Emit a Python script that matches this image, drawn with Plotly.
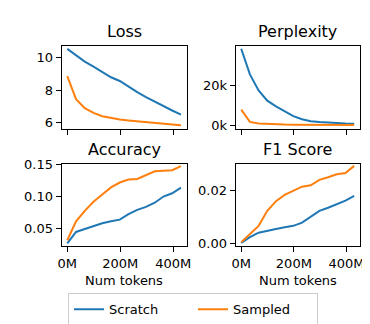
import plotly.graph_objects as go

tokens_m = [0, 33, 66, 99, 132, 165, 198, 231, 264, 297, 330, 363, 396, 429]

loss_scratch = [10.55, 10.16, 9.76, 9.45, 9.1, 8.8, 8.57, 8.2, 7.88, 7.58, 7.29, 7.0, 6.75, 6.5]
loss_sampled = [8.87, 7.45, 6.89, 6.6, 6.4, 6.28, 6.2, 6.14, 6.08, 6.02, 5.96, 5.9, 5.88, 5.84]

ppl_scratch = [38400, 25600, 17600, 12500, 9600, 7200, 4800, 3200, 2200, 1800, 1400, 1300, 1100, 1000]
ppl_sampled = [8000, 1900, 1100, 800, 650, 550, 500, 460, 430, 410, 390, 370, 360, 350]

acc_scratch = [0.026, 0.044, 0.0485, 0.0536, 0.0577, 0.0607, 0.0633, 0.072, 0.0786, 0.0832, 0.0898, 0.0995, 0.1046, 0.1135]
acc_sampled = [0.031, 0.0607, 0.077, 0.0913, 0.1026, 0.1138, 0.1214, 0.126, 0.127, 0.133, 0.139, 0.1398, 0.1408, 0.147]

f1_scratch = [0.0001, 0.0023, 0.004, 0.0046, 0.0054, 0.0061, 0.0066, 0.0078, 0.0102, 0.0123, 0.0135, 0.0148, 0.0162, 0.018]
f1_sampled = [0.0004, 0.0035, 0.0066, 0.0123, 0.016, 0.0184, 0.0199, 0.0215, 0.022, 0.0241, 0.0251, 0.0262, 0.0267, 0.0294]

x_tickvals = [0, 200, 400]
x_ticktext = ["0M", "200M", "400M"]

BLUE = "#1f77b4"
ORANGE = "#ff7f0e"
W, H = 370, 324
FONT = "DejaVu Sans"

fig = go.Figure()

panels = [
    ("x", "y", loss_scratch, loss_sampled),
    ("x2", "y2", ppl_scratch, ppl_sampled),
    ("x3", "y3", acc_scratch, acc_sampled),
    ("x4", "y4", f1_scratch, f1_sampled),
]
for i, (xa, ya, s, m) in enumerate(panels):
    fig.add_trace(go.Scatter(x=tokens_m, y=s, mode="lines", name="Scratch",
                             line=dict(color=BLUE, width=2), xaxis=xa, yaxis=ya,
                             showlegend=(i == 0)))
    fig.add_trace(go.Scatter(x=tokens_m, y=m, mode="lines", name="Sampled",
                             line=dict(color=ORANGE, width=2), xaxis=xa, yaxis=ya,
                             showlegend=(i == 0)))

def px_x(a, b):
    return [a / W, b / W]

def px_y(top, bottom):
    return [1 - bottom / H, 1 - top / H]

common_ax = dict(showline=True, mirror=True, linecolor="black", linewidth=1,
                 ticks="outside", ticklen=5, tickwidth=1, tickcolor="black",
                 showgrid=False, zeroline=False,
                 tickfont=dict(family=FONT, size=13, color="black"))
xr = [-21.45, 450.45]

dom_left = px_x(50.7, 178.5)
dom_right = px_x(228.5, 355.5)
dom_top = px_y(32.3, 118.7)
dom_bot = px_y(154.5, 240.0)

fig.update_layout(
    xaxis=dict(domain=dom_left, anchor="y", range=xr, tickvals=x_tickvals, ticktext=["", "", ""], **common_ax),
    yaxis=dict(domain=dom_top, anchor="x", range=[5.59, 10.72], tickvals=[6, 8, 10], **common_ax),
    xaxis2=dict(domain=dom_right, anchor="y2", range=xr, tickvals=x_tickvals, ticktext=["", "", ""], **common_ax),
    yaxis2=dict(domain=dom_top, anchor="x2", range=[-1800, 39700], tickvals=[0, 20000], ticktext=["0k", "20k"], **common_ax),
    xaxis3=dict(domain=dom_left, anchor="y3", range=xr, tickvals=x_tickvals, ticktext=x_ticktext, **common_ax),
    yaxis3=dict(domain=dom_bot, anchor="x3", range=[0.0218, 0.1508], tickvals=[0.05, 0.10, 0.15], ticktext=["0.05", "0.10", "0.15"], **common_ax),
    xaxis4=dict(domain=dom_right, anchor="y4", range=xr, tickvals=x_tickvals, ticktext=x_ticktext, **common_ax),
    yaxis4=dict(domain=dom_bot, anchor="x4", range=[-0.0011, 0.0302], tickvals=[0.0, 0.02], ticktext=["0.00", "0.02"], **common_ax),
)

titles = [("Loss", 114.6, 17), ("Perplexity", 292, 17), ("Accuracy", 114.6, 140), ("F1 Score", 292, 140),
          ("Num tokens", 114.6, 276), ("Num tokens", 292, 276)]
for text, cx, cy in titles:
    size = 16 if text != "Num tokens" else 13
    fig.add_annotation(text=text, x=cx / W, y=1 - cy / H, xref="paper", yref="paper",
                       showarrow=False, xanchor="center", yanchor="middle",
                       font=dict(family=FONT, size=size, color="black"))

fig.update_layout(
    width=W, height=H, autosize=False,
    margin=dict(l=0, r=0, t=0, b=0),
    paper_bgcolor="white", plot_bgcolor="white",
    font=dict(family=FONT, size=13, color="black"),
    legend=dict(orientation="h", x=0.5, xanchor="center", y=1 - 289 / H, yanchor="top",
                bordercolor="#cccccc", borderwidth=1, bgcolor="white",
                entrywidth=79, entrywidthmode="pixels",
                font=dict(family=FONT, size=13, color="black")),
)

fig.write_html("out.html")
